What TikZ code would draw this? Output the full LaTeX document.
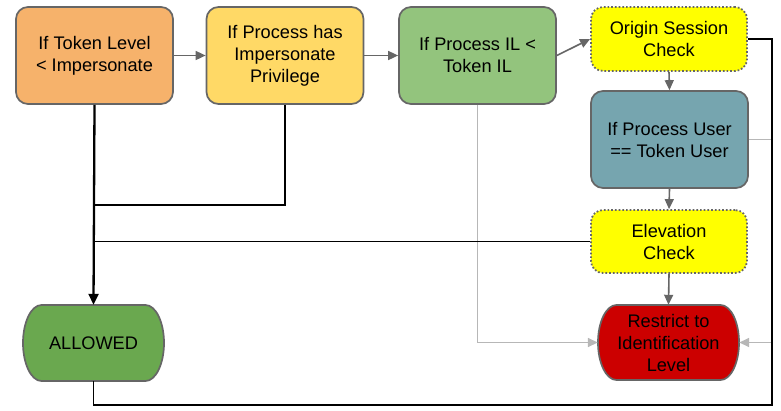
\documentclass[tikz,border=0pt]{standalone}
\usepackage{fontspec}
\setmainfont{Liberation Sans}
\usetikzlibrary{arrows.meta}
\definecolor{borderg}{HTML}{666666}
\definecolor{lightg}{HTML}{B7B7B7}
\definecolor{orangef}{HTML}{F6B26B}
\definecolor{yellowf}{HTML}{FFD966}
\definecolor{greenf}{HTML}{93C47D}
\definecolor{brightyel}{HTML}{FFFF00}
\definecolor{tealf}{HTML}{76A5AF}
\definecolor{redf}{HTML}{CC0000}
\definecolor{allowf}{HTML}{6AA84F}
\begin{document}
\begin{tikzpicture}[x=1pt,y=-1pt,
  txt/.style={align=center, inner sep=0pt, font=\fontsize{18.2}{22}\selectfont},
  box/.style={txt, draw=borderg, line width=1.7pt, rounded corners=12pt, minimum width=157pt, minimum height=97pt},
  dotbox/.style={box, dotted, line width=1.8pt, minimum width=156pt, minimum height=64pt},
  termshape/.style={draw=borderg, line width=1.7pt},
  garrow/.style={draw=borderg, line width=1.6pt, -{Triangle[length=10pt,width=9pt]}},
  larrow/.style={draw=lightg, line width=1.6pt, -{Triangle[length=10pt,width=9pt]}},
  bline/.style={draw=black, line width=1.6pt}]
\useasboundingbox (0,0) rectangle (781,410);
% terminator shapes
\draw[termshape, fill=redf] (616.5,305) -- (720.5,305) arc[start angle=90,end angle=-90,x radius=18.5pt,y radius=37.5pt] -- (616.5,380) arc[start angle=270,end angle=90,x radius=18.5pt,y radius=37.5pt] -- cycle;
\draw[termshape, fill=allowf] (41.5,305) -- (145.5,305) arc[start angle=90,end angle=-90,x radius=18.5pt,y radius=38pt] -- (41.5,381) arc[start angle=270,end angle=90,x radius=18.5pt,y radius=38pt] -- cycle;
% nodes
\node[box, fill=orangef] (A) at (94.5,55.5) {If Token Level\\{<} Impersonate};
\node[box, fill=yellowf] (B) at (285,55.5) {If Process has\\Impersonate\\Privilege};
\node[box, fill=greenf] (C) at (477.5,55.5) {If Process IL {<}\\Token IL};
\node[dotbox, fill=brightyel] (D) at (669,39) {Origin Session\\Check};
\node[box, fill=tealf] (E) at (669.5,139.5) {If Process User\\== Token User};
\node[dotbox, fill=brightyel, minimum height=63pt] (F) at (669,241.5) {Elevation\\Check};
\node[txt, minimum width=141pt, minimum height=75pt] (G) at (668.5,342.5) {Restrict to\\Identification\\Level};
\node[txt, minimum width=141pt, minimum height=76pt] (H) at (93.5,343) {ALLOWED};
% coordinates
\coordinate (j1) at (94,205);
\coordinate (rc) at (772,405);
\coordinate (rc2) at (772,342.5);
% gray connectors
\draw[garrow] (A.east) -- (B.west);
\draw[garrow] (B.east) -- (C.west);
\draw[garrow] (C.east) -- (D.west);
\draw[garrow] (D.south) -- (E.north);
\draw[garrow] (E.south) -- (F.north);
\draw[garrow] (F.south) -- (G.north);
% light gray connectors
\draw[larrow] (C.south) |- (G.west);
\draw[larrow] (E.east) -| (rc2) -- (G.east);
% black connectors
\draw[bline] (B.south) |- (j1);
\draw[bline] (F.west) -- (F.west -| j1);
\draw[bline] (D.east) -| (rc) -| (H.south);
\draw[draw=black, line width=2.3pt, -{Triangle[length=11pt,width=10pt]}] (A.south) -- (H.north);
\end{tikzpicture}
\end{document}
